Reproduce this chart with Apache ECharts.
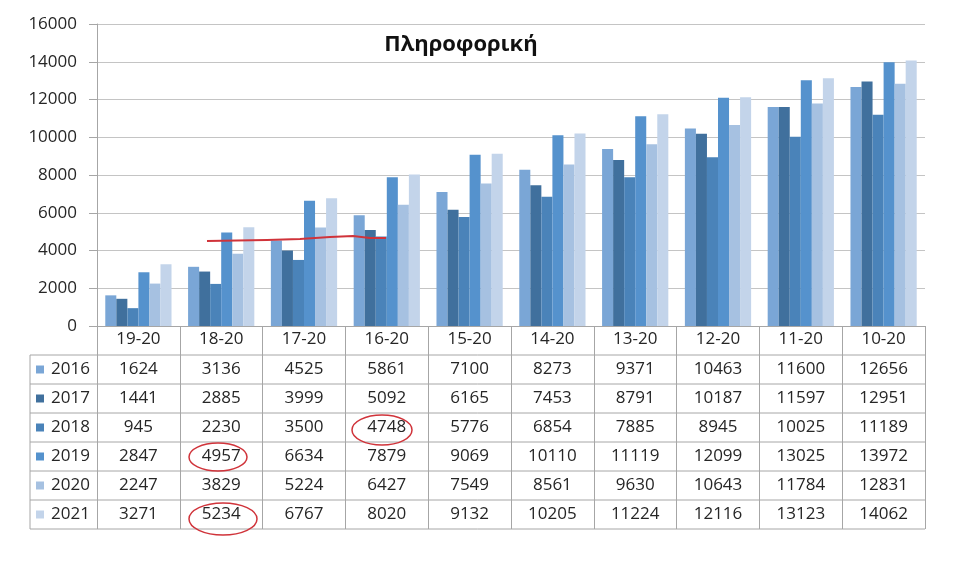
<!DOCTYPE html>
<html>
<head>
<meta charset="utf-8">
<script src="https://cdn.jsdelivr.net/npm/echarts@6/dist/echarts.min.js"></script>
<style>
  html, body { margin: 0; padding: 0; background: #fff; }
  #main { width: 960px; height: 561px; }
</style>
</head>
<body>
<div id="main"></div>
<script>
var categories = ['19-20', '18-20', '17-20', '16-20', '15-20', '14-20', '13-20', '12-20', '11-20', '10-20'];
var years = ['2016', '2017', '2018', '2019', '2020', '2021'];
var v2016 = [1624, 3136, 4525, 5861, 7100, 8273, 9371, 10463, 11600, 12656];
var v2017 = [1441, 2885, 3999, 5092, 6165, 7453, 8791, 10187, 11597, 12951];
var v2018 = [945, 2230, 3500, 4748, 5776, 6854, 7885, 8945, 10025, 11189];
var v2019 = [2847, 4957, 6634, 7879, 9069, 10110, 11119, 12099, 13025, 13972];
var v2020 = [2247, 3829, 5224, 6427, 7549, 8561, 9630, 10643, 11784, 12831];
var v2021 = [3271, 5234, 6767, 8020, 9132, 10205, 11224, 12116, 13123, 14062];
var values = [v2016, v2017, v2018, v2019, v2020, v2021];
var colors = ['#7aa6d6', '#40709d', '#4a83b9', '#5592cd', '#a6c1e1', '#c3d4ea'];

var FONT = '"Open Sans", "Noto Sans", sans-serif';
var TXT = '#262626';
var gridLeft = 97, gridRight = 925, gridTop = 24, gridBottom = 326;
var rowTop = 355, rowH = 29, tableLeft = 30;

var myChart = echarts.init(document.getElementById('main'));

var series = years.map(function (y, k) {
    return {
        name: y,
        type: 'bar',
        data: values[k],
        barGap: 0,
        barCategoryGap: '20%',
        itemStyle: { color: colors[k] },
        emphasis: { disabled: true }
    };
});

var option = {
    backgroundColor: '#fff',
    animation: false,
    title: {
        text: 'Πληροφορική',
        left: 456,
        top: 29,
        textAlign: 'center',
        textStyle: { fontFamily: FONT, fontSize: 22, fontWeight: 'bold', color: '#111' }
    },
    grid: { left: gridLeft, right: 960 - gridRight, top: gridTop, bottom: 561 - gridBottom },
    xAxis: {
        type: 'category',
        data: categories,
        axisLine: { lineStyle: { color: '#a6a6a6' } },
        axisTick: { show: true, interval: 0, length: 529 - gridBottom, lineStyle: { color: '#a6a6a6' } },
        axisLabel: { interval: 0, margin: 5, fontFamily: FONT, fontSize: 17, color: TXT }
    },
    yAxis: {
        type: 'value',
        min: 0,
        max: 16000,
        interval: 2000,
        axisLine: { show: true, lineStyle: { color: '#a6a6a6' } },
        axisTick: { show: true, length: 8, lineStyle: { color: '#a6a6a6' } },
        splitLine: { lineStyle: { color: '#c4c4c4' } },
        axisLabel: {
            margin: 20, fontFamily: FONT, fontSize: 17, color: TXT,
            formatter: function (v) { return String(v); }
        }
    },
    series: series
};

myChart.setOption(option);

// data table under the axis, built from the same arrays
var g = [];
for (var r = 0; r <= years.length; r++) {
    g.push({
        type: 'line',
        shape: { x1: tableLeft, y1: rowTop + r * rowH, x2: gridRight, y2: rowTop + r * rowH },
        style: { stroke: '#a6a6a6', lineWidth: 1 }
    });
}
g.push({
    type: 'line',
    shape: { x1: tableLeft, y1: rowTop, x2: tableLeft, y2: rowTop + years.length * rowH },
    style: { stroke: '#a6a6a6', lineWidth: 1 }
});
years.forEach(function (y, k) {
    var cy = rowTop + k * rowH + rowH / 2;
    g.push({
        type: 'rect',
        shape: { x: 36, y: cy - 4, width: 8, height: 8 },
        style: { fill: colors[k] }
    });
    g.push({
        type: 'text',
        x: 51, y: cy,
        style: { text: y, fontFamily: FONT, fontSize: 17, fill: TXT, verticalAlign: 'middle' }
    });
    values[k].forEach(function (v, i) {
        var px = myChart.convertToPixel({ xAxisIndex: 0 }, categories[i]);
        g.push({
            type: 'text',
            x: px, y: cy,
            style: { text: String(v), fontFamily: FONT, fontSize: 17, fill: TXT, align: 'center', verticalAlign: 'middle' }
        });
    });
});

// red hand-drawn marks
var red = '#d0333a';
g.push({
    type: 'polyline', z: 100,
    shape: { points: [[207, 241], [267, 240], [300, 239], [330, 237], [353, 236], [370, 238], [386, 238]] },
    style: { stroke: red, lineWidth: 2, fill: null }
});
g.push({ type: 'ellipse', z: 100, shape: { cx: 382, cy: 430, rx: 30, ry: 15 }, style: { stroke: red, lineWidth: 1.5, fill: null } });
g.push({ type: 'ellipse', z: 100, shape: { cx: 218, cy: 457, rx: 29, ry: 14 }, style: { stroke: red, lineWidth: 1.5, fill: null } });
g.push({ type: 'ellipse', z: 100, shape: { cx: 223, cy: 519, rx: 34, ry: 16 }, style: { stroke: red, lineWidth: 1.5, fill: null } });

myChart.setOption({ graphic: g });
</script>
</body>
</html>
